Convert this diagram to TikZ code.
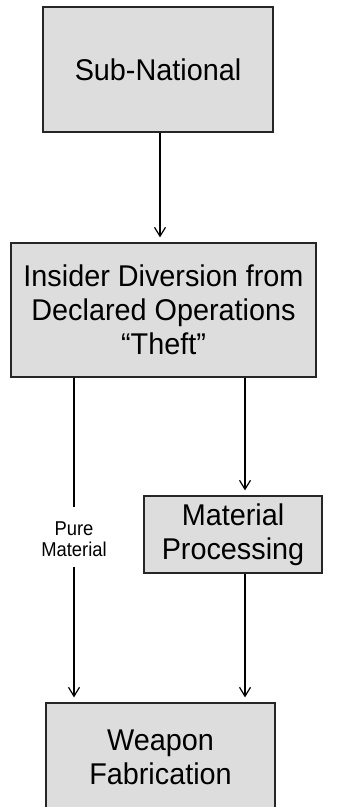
\documentclass[tikz,border=0pt]{standalone}
\usepackage{fontspec}
\setmainfont{Liberation Sans}[FakeStretch=0.96]
\newfontfamily\lblfont{Liberation Sans}[FakeStretch=0.92]
\usetikzlibrary{arrows.meta}
\definecolor{boxgray}{HTML}{DDDDDD}
\begin{document}
\begin{tikzpicture}[x=1pt,y=-1pt,
  box/.style={draw=black!85, line width=1.2pt, fill=boxgray, align=center,
    font=\fontsize{30}{34}\selectfont, inner sep=0pt},
  conn/.style={line width=1.2pt},
  arr/.style={conn, -{Straight Barb[length=9pt,width=11pt,line width=1.2pt]}, shorten >=5pt},
  lbl/.style={align=center, font=\lblfont\fontsize{20}{21}\selectfont, inner sep=0pt}]
\useasboundingbox (0,0) rectangle (339,807);
\clip (0,0) rectangle (339,807);
\node[box, minimum width=230pt, minimum height=125pt] (sub) at (158,69.5) {Sub-National};
\node[box, minimum width=305pt, minimum height=134pt] (ins) at (163.5,310) {Insider Diversion from\\Declared Operations\\“Theft”};
\node[box, minimum width=178pt, minimum height=77pt] (mat) at (233,534.5) {Material\\Processing};
\node[box, minimum width=229pt, minimum height=108pt] (wea) at (160.5,757) {Weapon\\Fabrication};
\node[lbl] (pm) at (74,539) {Pure\\Material};
\coordinate (pt) at (74,507);
\coordinate (pb) at (74,567);
\draw[arr] ([xshift=2pt]sub.south) -- ([xshift=2pt]sub.south |- ins.north);
\draw[conn] (pt |- ins.south) -- (pt);
\draw[arr] (pb) -- (pb |- wea.north);
\draw[arr] ([xshift=12pt]mat.north |- ins.south) -- ([xshift=12pt]mat.north);
\draw[arr] ([xshift=12pt]mat.south) -- ([xshift=12pt]mat.south |- wea.north);
\end{tikzpicture}
\end{document}
